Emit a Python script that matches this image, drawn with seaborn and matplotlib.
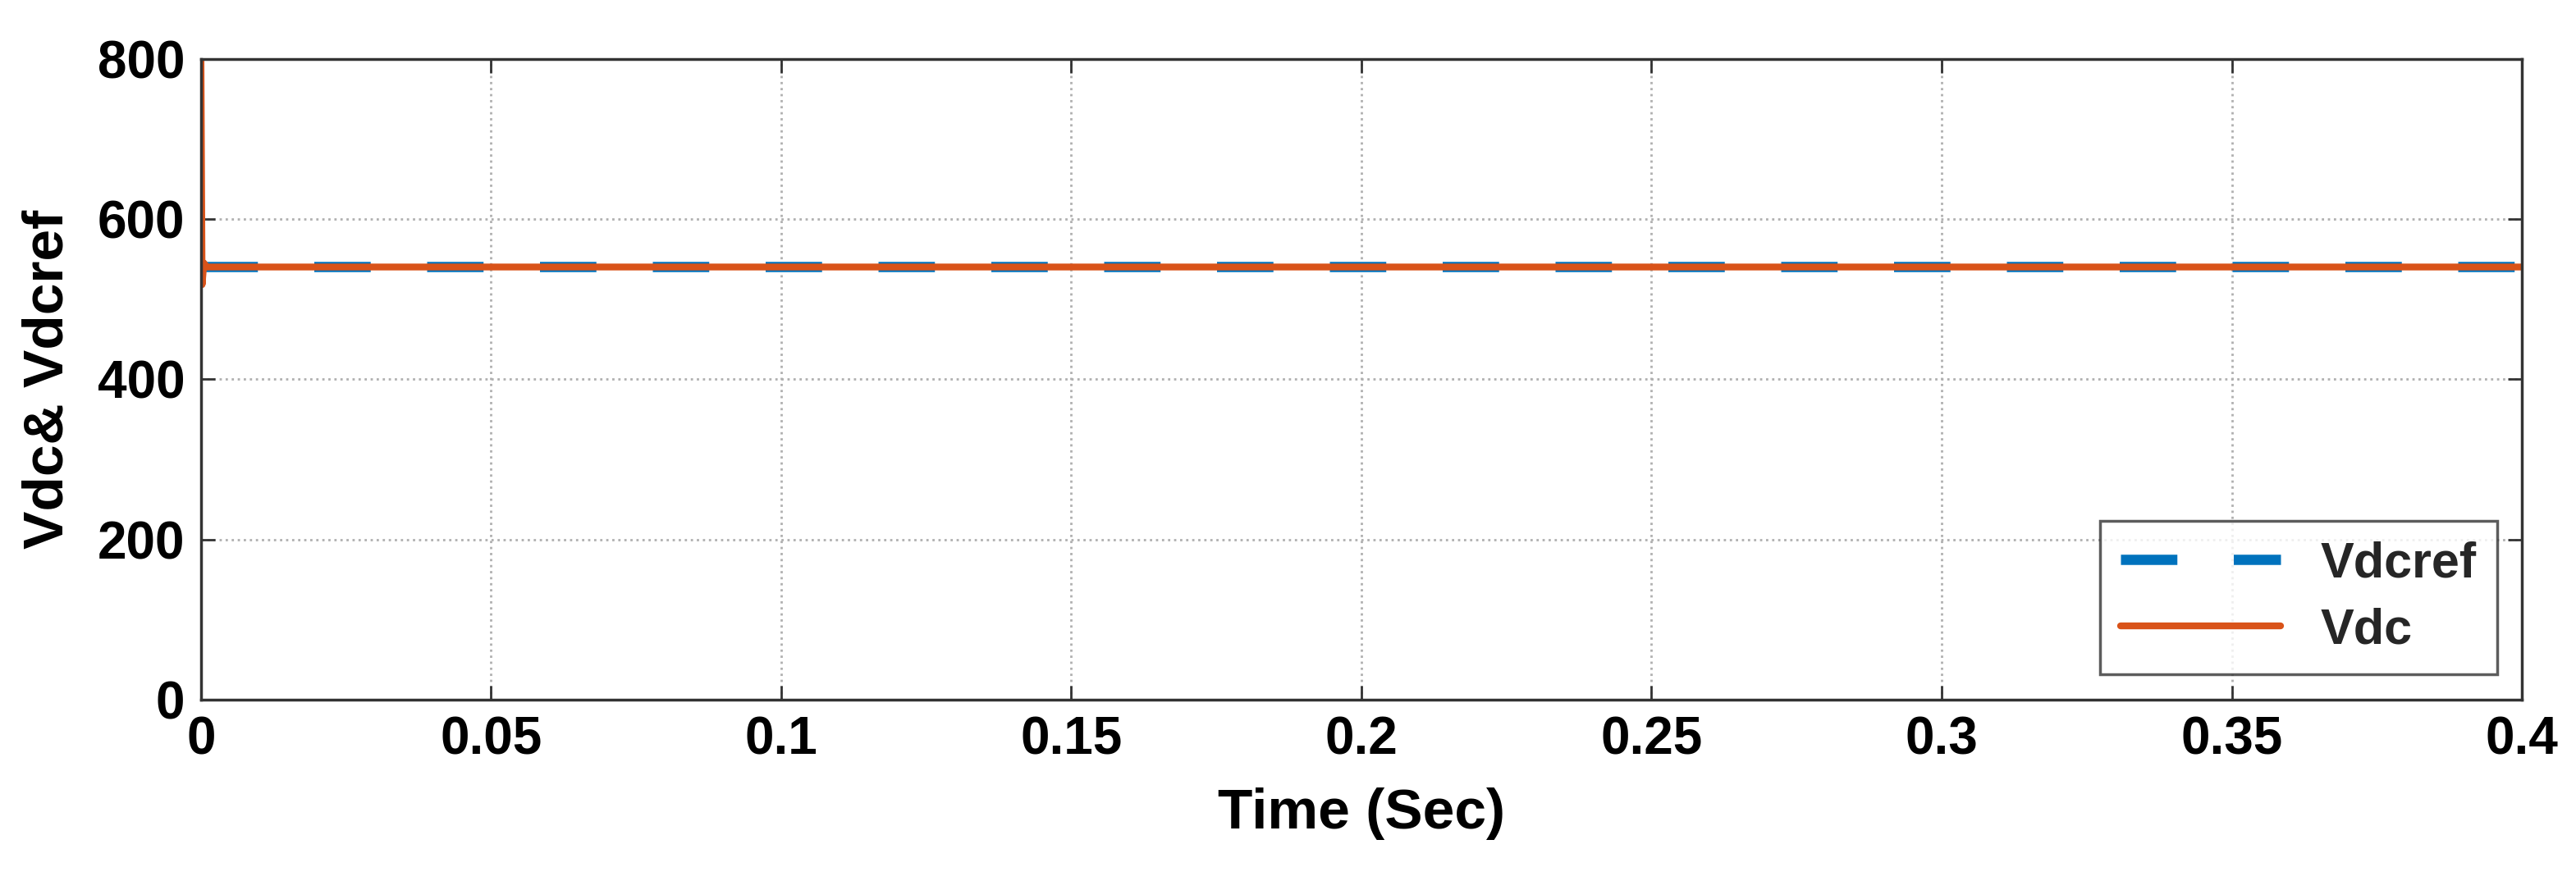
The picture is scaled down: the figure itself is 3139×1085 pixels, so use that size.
import numpy as np
import pandas as pd
import matplotlib
matplotlib.use("Agg")
import matplotlib.pyplot as plt
import seaborn as sns

# Values
t_ref = [0.0, 0.4]
vdcref = [540, 540]
t_vdc = [0.0, 0.0002, 0.0005, 0.001, 0.4]
vdc = [800, 518, 545, 540, 540]

sns.set_theme(style="white")
plt.rcParams['font.family'] = ['Liberation Sans', 'DejaVu Sans']

fig = plt.figure(figsize=(31.39, 10.85), dpi=100)
ax = fig.add_axes([0.078, 0.214, 0.901, 0.72])

ref_df = pd.DataFrame({'t': t_ref, 'v': vdcref})
vdc_df = pd.DataFrame({'t': t_vdc, 'v': vdc})
sns.lineplot(data=ref_df, x='t', y='v', ax=ax, color='#0072BD', linewidth=9,
             dashes=False, label='Vdcref')
ax.lines[-1].set_dashes([5.5, 5.5])
sns.lineplot(data=vdc_df, x='t', y='v', ax=ax, color='#D95319', linewidth=6,
             sort=False, label='Vdc')

ax.set_xlim(0, 0.4)
ax.set_ylim(0, 800)
ax.set_xticks(np.arange(0, 0.401, 0.05))
ax.set_xticklabels(['0', '0.05', '0.1', '0.15', '0.2', '0.25', '0.3', '0.35', '0.4'])
ax.set_yticks([0, 200, 400, 600, 800])
ax.grid(True, linestyle=':', color='#b0b0b0', linewidth=2)
for s in ax.spines.values():
    s.set_color('#333333')
    s.set_linewidth(2.5)
ax.tick_params(axis='both', labelsize=46, direction='in', length=12, width=2,
               colors='#333333', labelcolor='black', pad=14,
               top=True, right=True, bottom=True, left=True)
for lab in ax.get_xticklabels() + ax.get_yticklabels():
    lab.set_fontweight('bold')
ax.set_xlabel('Time (Sec)', fontsize=50, fontweight='bold', labelpad=20, color='black')
ax.set_ylabel('Vdc& Vdcref', fontsize=50, fontweight='bold', labelpad=20, color='black')

leg = ax.legend(loc='lower right', prop={'weight': 'bold', 'size': 44},
                frameon=True, fancybox=False, edgecolor='#333333', handlelength=3.2,
                borderaxespad=0.5, labelspacing=0.4)
leg.get_frame().set_linewidth(2.5)

fig.savefig('out.png', dpi=100)
